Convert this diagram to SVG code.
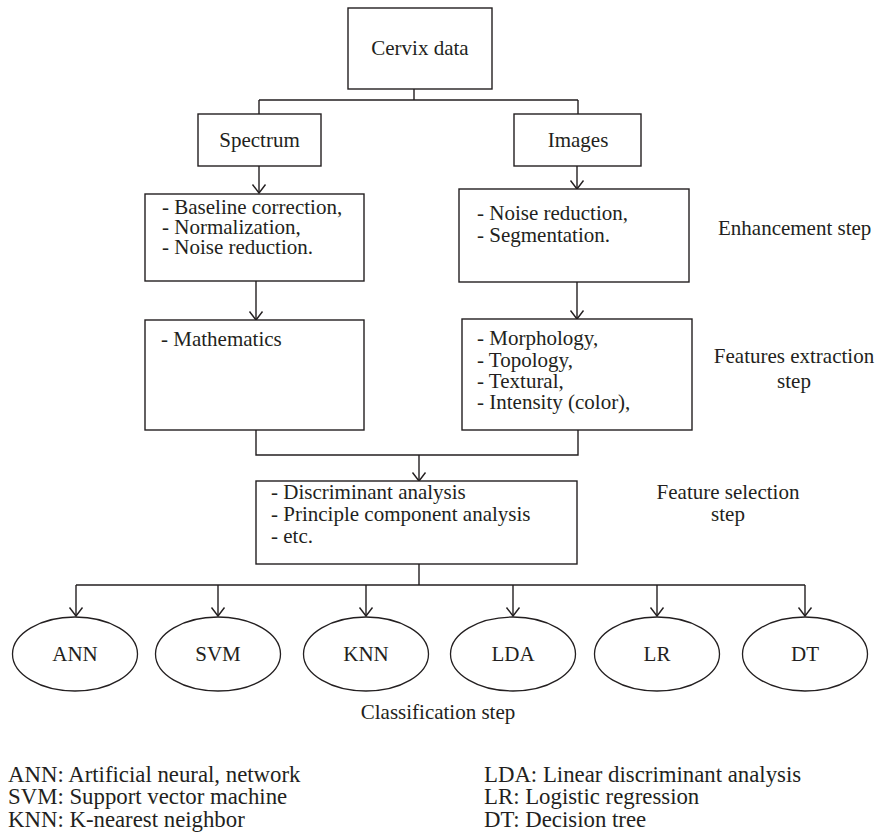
<svg xmlns="http://www.w3.org/2000/svg" width="876" height="839" viewBox="0 0 876 839" font-family="'Liberation Serif', 'Times New Roman', 'DejaVu Serif', serif">
<defs>
<style>
.box{fill:#fff;stroke:#231f20;stroke-width:1.4}
.ell{fill:#fff;stroke:#231f20;stroke-width:1.3}
.ln{fill:none;stroke:#231f20;stroke-width:1.4}
.t{font-family:'Liberation Serif','Times New Roman','DejaVu Serif',serif;font-size:21px;fill:#231f20}
.c{text-anchor:middle}
.lg{font-size:22.8px}
</style>
<marker id="arr" markerWidth="20" markerHeight="20" viewBox="-10 -10 20 20" refX="0" refY="0" orient="auto" markerUnits="userSpaceOnUse">
<path d="M-8.5,-6.5 L0,0 L-8.5,6.5" fill="none" stroke="#231f20" stroke-width="1.4"/>
</marker>
</defs>
<rect width="876" height="839" fill="#fff"/>

<g id="connectors">
<path class="ln" d="M414,89 V100 M259,100 H578 M259,100 V114 M578,100 V114"/>
<path class="ln" d="M259,166 V193" marker-end="url(#arr)"/>
<path class="ln" d="M577,166 V189" marker-end="url(#arr)"/>
<path class="ln" d="M256,281 V320" marker-end="url(#arr)"/>
<path class="ln" d="M577,282 V319" marker-end="url(#arr)"/>
<path class="ln" d="M256,430 V455 H578 V430"/>
<path class="ln" d="M419,455 V481" marker-end="url(#arr)"/>
<path class="ln" d="M419,564 V585 M76,585 H805"/>
<path class="ln" d="M76,585 V616" marker-end="url(#arr)"/>
<path class="ln" d="M218,585 V616" marker-end="url(#arr)"/>
<path class="ln" d="M366,585 V616" marker-end="url(#arr)"/>
<path class="ln" d="M513,585 V616" marker-end="url(#arr)"/>
<path class="ln" d="M657,585 V616" marker-end="url(#arr)"/>
<path class="ln" d="M805,585 V616" marker-end="url(#arr)"/>
</g>

<g id="cervix">
<rect class="box" x="348" y="8" width="144" height="81"/>
<text class="t c" x="420" y="55">Cervix data</text>
</g>
<g id="spectrum">
<rect class="box" x="198" y="114" width="123" height="52"/>
<text class="t c" x="259.5" y="147">Spectrum</text>
</g>
<g id="images">
<rect class="box" x="514" y="114" width="127" height="52"/>
<text class="t c" x="578" y="147">Images</text>
</g>
<g id="spec-enh">
<rect class="box" x="145" y="194" width="219" height="87"/>
<text class="t" x="162" y="214">- Baseline correction,</text>
<text class="t" x="162" y="234">- Normalization,</text>
<text class="t" x="162" y="254">- Noise reduction.</text>
</g>
<g id="img-enh">
<rect class="box" x="459" y="189" width="230" height="93"/>
<text class="t" x="477" y="220">- Noise reduction,</text>
<text class="t" x="477" y="242">- Segmentation.</text>
</g>
<g id="enh-label">
<text class="t" x="718" y="235">Enhancement step</text>
</g>
<g id="spec-feat">
<rect class="box" x="145" y="320" width="219" height="110"/>
<text class="t" x="161" y="346">- Mathematics</text>
</g>
<g id="img-feat">
<rect class="box" x="462" y="319" width="230" height="111"/>
<text class="t" x="477" y="345">- Morphology,</text>
<text class="t" x="477" y="367">- Topology,</text>
<text class="t" x="477" y="388">- Textural,</text>
<text class="t" x="477" y="409">- Intensity (color),</text>
</g>
<g id="feat-label">
<text class="t c" x="794" y="363">Features extraction</text>
<text class="t c" x="794" y="388">step</text>
</g>
<g id="selection">
<rect class="box" x="256" y="481" width="321" height="83"/>
<text class="t" x="271" y="499">- Discriminant analysis</text>
<text class="t" x="271" y="521">- Principle component analysis</text>
<text class="t" x="271" y="543">- etc.</text>
</g>
<g id="sel-label">
<text class="t c" x="728" y="499">Feature selection</text>
<text class="t c" x="728" y="521">step</text>
</g>
<g id="ann"><ellipse class="ell" cx="75" cy="654" rx="62.5" ry="37"/><text class="t c" x="75" y="661">ANN</text></g>
<g id="svm"><ellipse class="ell" cx="218" cy="654" rx="62.5" ry="37"/><text class="t c" x="218" y="661">SVM</text></g>
<g id="knn"><ellipse class="ell" cx="366" cy="654" rx="62.5" ry="37"/><text class="t c" x="366" y="661">KNN</text></g>
<g id="lda"><ellipse class="ell" cx="513" cy="654" rx="62.5" ry="37"/><text class="t c" x="513" y="661">LDA</text></g>
<g id="lr"><ellipse class="ell" cx="657" cy="654" rx="62.5" ry="37"/><text class="t c" x="657" y="661">LR</text></g>
<g id="dt"><ellipse class="ell" cx="805" cy="654" rx="62.5" ry="37"/><text class="t c" x="805" y="661">DT</text></g>
<g id="class-label">
<text class="t c" x="438" y="719">Classification step</text>
</g>
<g id="legend">
<text class="t lg" x="8" y="782">ANN: Artificial neural, network</text>
<text class="t lg" x="8" y="804">SVM: Support vector machine</text>
<text class="t lg" x="8" y="827">KNN: K-nearest neighbor</text>
<text class="t lg" x="484" y="782">LDA: Linear discriminant analysis</text>
<text class="t lg" x="484" y="804">LR: Logistic regression</text>
<text class="t lg" x="484" y="827">DT: Decision tree</text>
</g>
</svg>
